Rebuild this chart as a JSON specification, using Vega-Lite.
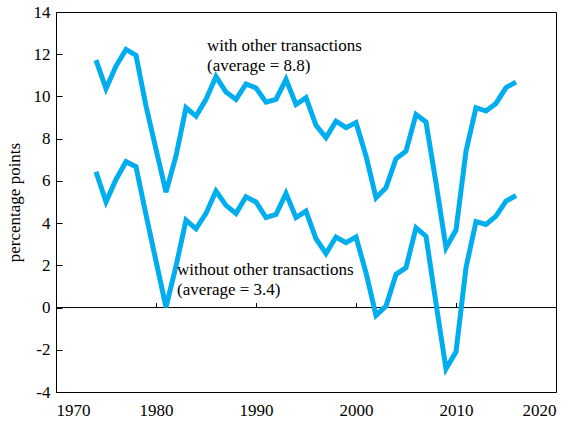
{
  "$schema": "https://vega.github.io/schema/vega-lite/v6.json",
  "width": 500,
  "height": 380,
  "autosize": {"type": "none"},
  "padding": {"left": 56, "top": 12, "right": 19, "bottom": 29},
  "background": "white",
  "config": {
    "font": "Liberation Serif",
    "view": {"stroke": "black", "strokeWidth": 1},
    "axis": {
      "labelFont": "Liberation Serif",
      "labelFontSize": 17,
      "labelColor": "black",
      "titleFont": "Liberation Serif",
      "titleFontSize": 17,
      "titleFontWeight": "normal",
      "titleColor": "black",
      "grid": false,
      "tickColor": "black",
      "domainColor": "black"
    }
  },
  "datasets": {
    "series": [
      {"year": 1974, "series": "with", "value": 11.72},
      {"year": 1975, "series": "with", "value": 10.37},
      {"year": 1976, "series": "with", "value": 11.44},
      {"year": 1977, "series": "with", "value": 12.23},
      {"year": 1978, "series": "with", "value": 11.95},
      {"year": 1979, "series": "with", "value": 9.55},
      {"year": 1980, "series": "with", "value": 7.5},
      {"year": 1981, "series": "with", "value": 5.47},
      {"year": 1982, "series": "with", "value": 7.18},
      {"year": 1983, "series": "with", "value": 9.47},
      {"year": 1984, "series": "with", "value": 9.07},
      {"year": 1985, "series": "with", "value": 9.86},
      {"year": 1986, "series": "with", "value": 10.94},
      {"year": 1987, "series": "with", "value": 10.21},
      {"year": 1988, "series": "with", "value": 9.86},
      {"year": 1989, "series": "with", "value": 10.59},
      {"year": 1990, "series": "with", "value": 10.4},
      {"year": 1991, "series": "with", "value": 9.73},
      {"year": 1992, "series": "with", "value": 9.86},
      {"year": 1993, "series": "with", "value": 10.81},
      {"year": 1994, "series": "with", "value": 9.62},
      {"year": 1995, "series": "with", "value": 9.94},
      {"year": 1996, "series": "with", "value": 8.63},
      {"year": 1997, "series": "with", "value": 8.05},
      {"year": 1998, "series": "with", "value": 8.83},
      {"year": 1999, "series": "with", "value": 8.52},
      {"year": 2000, "series": "with", "value": 8.76},
      {"year": 2001, "series": "with", "value": 7.18},
      {"year": 2002, "series": "with", "value": 5.2},
      {"year": 2003, "series": "with", "value": 5.68},
      {"year": 2004, "series": "with", "value": 7.05},
      {"year": 2005, "series": "with", "value": 7.41},
      {"year": 2006, "series": "with", "value": 9.15},
      {"year": 2007, "series": "with", "value": 8.79},
      {"year": 2008, "series": "with", "value": 5.9},
      {"year": 2009, "series": "with", "value": 2.83},
      {"year": 2010, "series": "with", "value": 3.67},
      {"year": 2011, "series": "with", "value": 7.41},
      {"year": 2012, "series": "with", "value": 9.47},
      {"year": 2013, "series": "with", "value": 9.31},
      {"year": 2014, "series": "with", "value": 9.67},
      {"year": 2015, "series": "with", "value": 10.42},
      {"year": 2016, "series": "with", "value": 10.68},
      {"year": 1974, "series": "without", "value": 6.43},
      {"year": 1975, "series": "without", "value": 5.01},
      {"year": 1976, "series": "without", "value": 6.07},
      {"year": 1977, "series": "without", "value": 6.91},
      {"year": 1978, "series": "without", "value": 6.67},
      {"year": 1979, "series": "without", "value": 4.4},
      {"year": 1980, "series": "without", "value": 2.2},
      {"year": 1981, "series": "without", "value": 0.02},
      {"year": 1982, "series": "without", "value": 1.96},
      {"year": 1983, "series": "without", "value": 4.14},
      {"year": 1984, "series": "without", "value": 3.73},
      {"year": 1985, "series": "without", "value": 4.46},
      {"year": 1986, "series": "without", "value": 5.52},
      {"year": 1987, "series": "without", "value": 4.84},
      {"year": 1988, "series": "without", "value": 4.46},
      {"year": 1989, "series": "without", "value": 5.25},
      {"year": 1990, "series": "without", "value": 5.0},
      {"year": 1991, "series": "without", "value": 4.26},
      {"year": 1992, "series": "without", "value": 4.41},
      {"year": 1993, "series": "without", "value": 5.41},
      {"year": 1994, "series": "without", "value": 4.26},
      {"year": 1995, "series": "without", "value": 4.57},
      {"year": 1996, "series": "without", "value": 3.26},
      {"year": 1997, "series": "without", "value": 2.56},
      {"year": 1998, "series": "without", "value": 3.34},
      {"year": 1999, "series": "without", "value": 3.07},
      {"year": 2000, "series": "without", "value": 3.34},
      {"year": 2001, "series": "without", "value": 1.65},
      {"year": 2002, "series": "without", "value": -0.37},
      {"year": 2003, "series": "without", "value": 0.07},
      {"year": 2004, "series": "without", "value": 1.57},
      {"year": 2005, "series": "without", "value": 1.89},
      {"year": 2006, "series": "without", "value": 3.78},
      {"year": 2007, "series": "without", "value": 3.38},
      {"year": 2008, "series": "without", "value": 0.2},
      {"year": 2009, "series": "without", "value": -2.9},
      {"year": 2010, "series": "without", "value": -2.1},
      {"year": 2011, "series": "without", "value": 1.89},
      {"year": 2012, "series": "without", "value": 4.07},
      {"year": 2013, "series": "without", "value": 3.94},
      {"year": 2014, "series": "without", "value": 4.33},
      {"year": 2015, "series": "without", "value": 5.04},
      {"year": 2016, "series": "without", "value": 5.31}
    ]
  },
  "resolve": {"axis": {"x": "independent"}},
  "layer": [
    {
      "data": {"values": [{}]},
      "mark": {"type": "rule", "color": "black", "strokeWidth": 1},
      "encoding": {
        "x": {
          "datum": 1970,
          "type": "quantitative",
          "scale": {"domain": [1970, 2020], "nice": false},
          "axis": {
            "title": null,
            "orient": "bottom",
            "offset": -84.44,
            "labels": false,
            "domain": false,
            "ticks": true,
            "tickSize": -5,
            "values": [1980, 1990, 2000, 2010]
          }
        },
        "x2": {"datum": 2020},
        "y": {"datum": 0, "type": "quantitative", "title": "percentage points"}
      }
    },
    {
      "data": {"name": "series"},
      "mark": {"type": "line", "color": "#00AEEF", "strokeWidth": 5, "strokeJoin": "miter"},
      "encoding": {
        "x": {
          "field": "year",
          "type": "quantitative",
          "scale": {"domain": [1970, 2020], "nice": false},
          "axis": {
            "title": null,
            "orient": "bottom",
            "values": [1970, 1980, 1990, 2000, 2010, 2020],
            "format": "d",
            "ticks": false,
            "domain": false,
            "labelPadding": 10,
            "labelBaseline": "top"
          }
        },
        "y": {
          "field": "value",
          "type": "quantitative",
          "scale": {"domain": [-4, 14], "nice": false},
          "title": "percentage points",
          "axis": {
            "title": "percentage points",
            "values": [-4, -2, 0, 2, 4, 6, 8, 10, 12, 14],
            "labelExpr": "'' + datum.value",
            "tickSize": -6,
            "domain": false,
            "labelPadding": 12,
            "titlePadding": 10
          }
        },
        "detail": {"field": "series"}
      }
    },
    {
      "data": {"values": [{}]},
      "mark": {"type": "text", "align": "left", "baseline": "top", "fontSize": 17, "lineHeight": 20, "font": "Liberation Serif", "color": "black"},
      "encoding": {
        "x": {"datum": 1985.1, "type": "quantitative", "axis": null},
        "y": {"datum": 12.75, "type": "quantitative", "title": "percentage points"},
        "text": {"value": ["with other transactions", "(average = 8.8)"]}
      }
    },
    {
      "data": {"values": [{}]},
      "mark": {"type": "text", "align": "left", "baseline": "top", "fontSize": 17, "lineHeight": 20, "font": "Liberation Serif", "color": "black"},
      "encoding": {
        "x": {"datum": 1982.1, "type": "quantitative", "axis": null},
        "y": {"datum": 2.18, "type": "quantitative", "title": "percentage points"},
        "text": {"value": ["without other transactions", "(average = 3.4)"]}
      }
    }
  ]
}
